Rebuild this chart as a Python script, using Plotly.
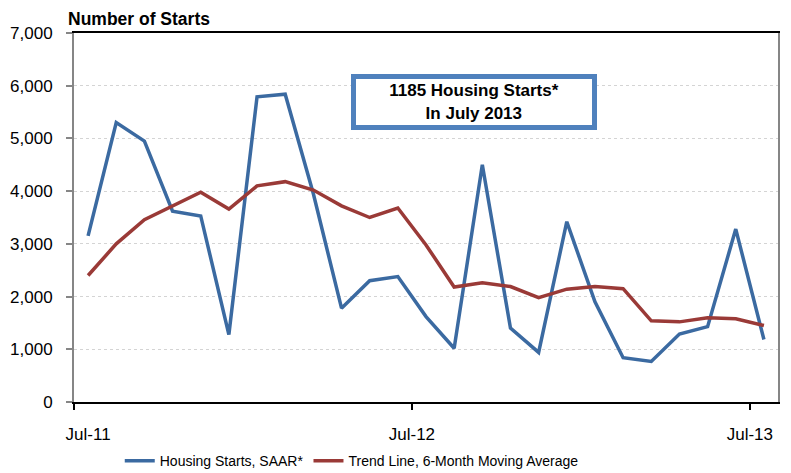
import plotly.graph_objects as go

months = ["Jul-11", "Aug-11", "Sep-11", "Oct-11", "Nov-11", "Dec-11",
          "Jan-12", "Feb-12", "Mar-12", "Apr-12", "May-12", "Jun-12",
          "Jul-12", "Aug-12", "Sep-12", "Oct-12", "Nov-12", "Dec-12",
          "Jan-13", "Feb-13", "Mar-13", "Apr-13", "May-13", "Jun-13", "Jul-13"]

housing_starts = [3150, 5300, 4950, 3620, 3530, 1280, 5790, 5840, 3950, 1780,
                  2300, 2380, 1620, 1020, 4500, 1400, 940, 3420, 1900, 840,
                  770, 1290, 1430, 3280, 1185]

trend_6m = [2400, 3000, 3460, 3720, 3980, 3660, 4100, 4180, 4020, 3720,
            3500, 3680, 2980, 2180, 2260, 2190, 1980, 2140, 2190, 2150,
            1540, 1520, 1600, 1580, 1450]

y_ticks = [0, 1000, 2000, 3000, 4000, 5000, 6000, 7000]
label_months = [months[0], months[12], months[24]]

x_idx = list(range(len(months)))

FONT = "Liberation Sans, Arial, sans-serif"
BLUE = "#3B6AA1"
RED = "#9A3A37"

fig = go.Figure()
fig.add_trace(go.Scatter(
    x=x_idx, y=housing_starts, mode="lines", name="Housing Starts, SAAR*",
    line=dict(color=BLUE, width=3.5), customdata=months,
    hovertemplate="%{customdata}: %{y:,}<extra></extra>"))
fig.add_trace(go.Scatter(
    x=x_idx, y=trend_6m, mode="lines", name="Trend Line, 6-Month Moving Average",
    line=dict(color=RED, width=3.5), customdata=months,
    hovertemplate="%{customdata}: %{y:,}<extra></extra>"))

# page body has an 8px margin, so the figure is sized to fit the 791x473 window
fig.update_layout(
    width=783, height=465,
    margin=dict(l=66, r=13, t=25, b=71, autoexpand=False),
    paper_bgcolor="white", plot_bgcolor="white",
    font=dict(family=FONT, size=17, color="black"),
    showlegend=True,
    legend=dict(orientation="h", x=0.065, xanchor="left", y=-0.16, yanchor="middle",
                font=dict(family=FONT, size=14, color="black"),
                bgcolor="rgba(0,0,0,0)"),
    xaxis=dict(
        range=[-0.5, len(months) - 0.5],
        tickmode="array", tickvals=[0, 11.5, 23.5], ticktext=label_months,
        ticks="", showgrid=False, zeroline=False,
        showline=True, linecolor="black", linewidth=1.5, mirror=True,
        ticklabelstandoff=16,
        tickfont=dict(family=FONT, size=17, color="black"),
        minor=dict(tickmode="array", tickvals=[-0.5, 11.5, 23.5], ticks="outside",
                   ticklen=6, tickcolor="black", tickwidth=1.5, showgrid=False),
    ),
    yaxis=dict(
        range=[0, 7000], tickmode="array", tickvals=y_ticks, tickformat=",",
        ticks="outside", ticklen=6, tickcolor="#868686", tickwidth=1.5,
        showgrid=True, gridcolor="#D4D4D4", griddash="dot", gridwidth=1,
        zeroline=False, showline=True, linecolor="#868686", linewidth=2, mirror=True,
        ticklabelstandoff=10,
        tickfont=dict(family=FONT, size=17, color="black"),
    ),
    annotations=[
        dict(text="<b>Number of Starts</b>", xref="paper", yref="paper",
             x=-0.012, y=1, xanchor="left", yanchor="bottom", yshift=2,
             showarrow=False, font=dict(family=FONT, size=17.5, color="black")),
        dict(text="<b>1185 Housing Starts*<br>In July 2013</b>", xref="paper", yref="paper",
             x=0.568, y=0.8117, xanchor="center", yanchor="middle",
             showarrow=False, align="center",
             width=234, height=44, borderpad=1,
             bordercolor="#4F81BD", borderwidth=5, bgcolor="white",
             font=dict(family=FONT, size=17, color="black")),
    ],
)

fig.write_html("out.html")
